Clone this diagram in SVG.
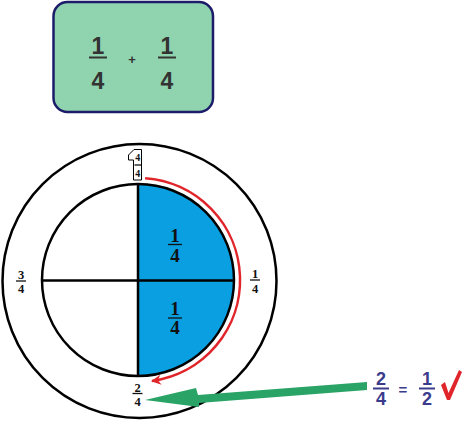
<svg xmlns="http://www.w3.org/2000/svg" width="462" height="422" viewBox="0 0 462 422">
<style>
.ring{fill:none;stroke:#000;stroke-width:2.5}
.ser{font-family:"Liberation Serif",serif;font-weight:bold;fill:#111;text-anchor:middle}
.sans{font-family:"Liberation Sans",sans-serif;font-weight:bold;text-anchor:middle}
.fl{stroke:#111;stroke-width:1.3}
.bl{stroke:#333;stroke-width:2}
.el{stroke:#3b3b8c;stroke-width:2}
</style>
<defs>
<marker id="redhead" markerUnits="userSpaceOnUse" markerWidth="12" markerHeight="12" refX="9" refY="5" orient="auto">
<path d="M0,0 L10,5 L0,10 L3,5 Z" fill="#e0252b"/>
</marker>
</defs>
<rect width="462" height="422" fill="#fff"/>
<g id="sum-box">
<rect x="53.5" y="2" width="159.5" height="110" rx="14" fill="#8fd4ae" stroke="#1c1c6a" stroke-width="2.5"/>
<text class="sans" x="98" y="54" font-size="23" fill="#333">1</text>
<line class="bl" x1="89" y1="57.5" x2="107" y2="57.5"/>
<text class="sans" x="98" y="89" font-size="23" fill="#333">4</text>
<text class="sans" x="132" y="64" font-size="13" fill="#333">+</text>
<text class="sans" x="167" y="54" font-size="23" fill="#333">1</text>
<line class="bl" x1="158" y1="57.5" x2="176" y2="57.5"/>
<text class="sans" x="167" y="89" font-size="23" fill="#333">4</text>
</g>
<g id="outer-circle">
<circle class="ring" cx="139.5" cy="281" r="137"/>
</g>
<g id="inner-circle">
<path d="M138,184 A96,96 0 0 1 138,376 Z" fill="#0a9fe0"/>
<circle class="ring" cx="138" cy="280" r="96"/>
<line x1="42" y1="280.5" x2="234" y2="280.5" stroke="#000" stroke-width="2.5"/>
<line x1="138" y1="184" x2="138" y2="376" stroke="#000" stroke-width="2.5"/>
</g>
<g id="q1-label">
<text class="ser" x="175" y="242" font-size="19">1</text>
<line class="fl" x1="168" y1="244.5" x2="182" y2="244.5"/>
<text class="ser" x="175" y="262" font-size="19">4</text>
</g>
<g id="q2-label">
<text class="ser" x="175" y="315" font-size="19">1</text>
<line class="fl" x1="168" y1="318" x2="182" y2="318"/>
<text class="ser" x="175" y="334" font-size="19">4</text>
</g>
<g id="label-right">
<text class="ser" x="255" y="278" font-size="12.5">1</text>
<line class="fl" x1="250" y1="280" x2="260" y2="280"/>
<text class="ser" x="255" y="293" font-size="12.5">4</text>
</g>
<g id="label-left">
<text class="ser" x="21" y="278.5" font-size="12.5">3</text>
<line class="fl" x1="16" y1="281" x2="26" y2="281"/>
<text class="ser" x="21" y="292.5" font-size="12.5">4</text>
</g>
<g id="label-bottom">
<text class="ser" x="137.5" y="391.5" font-size="12.5">2</text>
<line class="fl" x1="132.5" y1="393.5" x2="142.5" y2="393.5"/>
<text class="ser" x="137.5" y="406" font-size="12.5">4</text>
</g>
<g id="label-top">
<path d="M134,149.5 L141.5,149.5 L141.5,180 L133.5,180 L133.5,160 L128.5,160 L128.5,155 Z" fill="#fff" stroke="#000" stroke-width="1"/>
<text class="ser" x="137.8" y="161" font-size="10">4</text>
<line class="fl" x1="134.5" y1="165" x2="141" y2="165" stroke-width="1"/>
<text class="ser" x="137.8" y="177" font-size="10">4</text>
</g>
<g id="connectors">
<path d="M145.1,178.2 A102,102 0 0 1 152,381" fill="none" stroke="#e0252b" stroke-width="2.5" marker-end="url(#redhead)"/>
<polygon points="145,400 196,388 198,395 367,382 367,390 199,403 199,407" fill="#2aa366"/>
</g>
<g id="equation">
<text class="sans" x="381" y="385" font-size="18" fill="#3b3b8c">2</text>
<line class="el" x1="373" y1="388.5" x2="389" y2="388.5"/>
<text class="sans" x="381" y="405" font-size="18" fill="#3b3b8c">4</text>
<text class="sans" x="403" y="395" font-size="15" fill="#3b3b8c">=</text>
<text class="sans" x="427" y="385" font-size="18" fill="#3b3b8c">1</text>
<line class="el" x1="419" y1="388.5" x2="435" y2="388.5"/>
<text class="sans" x="427" y="405" font-size="18" fill="#3b3b8c">2</text>
<path d="M441,385 L445,382 L448.5,393 L459,370 L462,372 L450,400 L447,400 Z" fill="#e0252b"/>
</g>
</svg>
